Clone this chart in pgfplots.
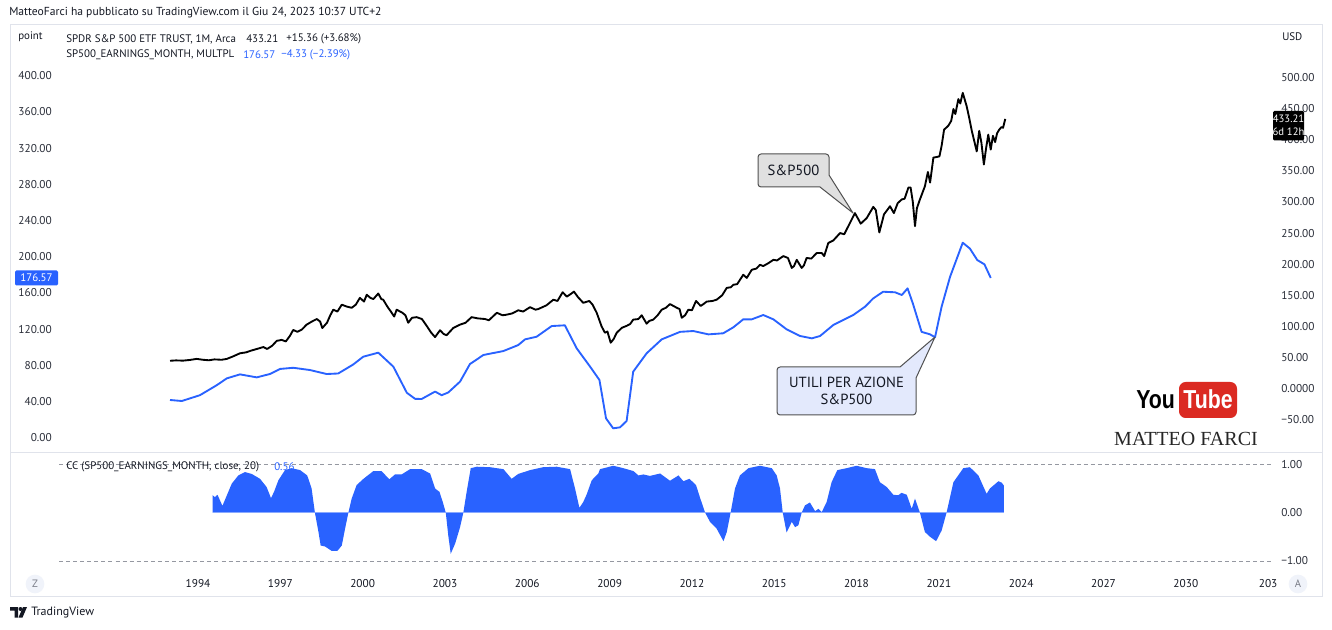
\documentclass[border=0pt]{standalone}
\usepackage{fontspec}
\setmainfont{PT Sans}
\newfontfamily\logoserif{Liberation Serif}
\newfontfamily\ytfont{Liberation Sans Bold}[FakeStretch=0.82]
\usepackage{pgfplots}
\pgfplotsset{compat=1.18}

\definecolor{tvblue}{HTML}{2962FF}
\definecolor{txt}{HTML}{131722}
\definecolor{tick}{HTML}{2A2E39}
\definecolor{framec}{HTML}{E0E3EB}
\definecolor{dashc}{HTML}{9598A1}
\definecolor{callgray}{HTML}{E0E0E0}
\definecolor{calledge}{HTML}{505050}
\definecolor{callblue}{HTML}{E3E9FC}
\definecolor{ytred}{HTML}{DB2A22}
\definecolor{btnfill}{HTML}{F0F3FA}
\definecolor{btntext}{HTML}{787B86}

\pgfplotsset{
  tvpane/.style={
    scale only axis, width=910.5pt,
    xmin=1988.934, xmax=2033.177,
    axis line style={draw=none},
    major tick length=0pt,
    tick label style={font=\fontsize{8.5}{10}\selectfont, text=tick},
    clip=true,
  },
}

\begin{document}
\begin{tikzpicture}[x=0.75pt, y=0.75pt]
\useasboundingbox (0,0) rectangle (1332,629);
\fill[white] (0,0) rectangle (1332,629);

% S&P 500 earnings, left scale
\begin{axis}[tvpane, at={(44.25pt,453pt)}, anchor=north west, height=320.8pt,
  ymin=-16.57, ymax=456.0, xtick=\empty,
  ytick={0,40,...,400},
  yticklabels={0.00,40.00,80.00,120.00,160.00,200.00,240.00,280.00,320.00,360.00,400.00},
  yticklabel style={anchor=east, inner sep=0pt, xshift=-5.25pt}]
\addplot[tvblue, line width=1.4pt, line join=round] coordinates {
(1992.98,41.7) (1993.41,40.6) (1994.07,47) (1994.68,58) (1995.05,65.6) (1995.53,70)
(1996.14,66.7) (1996.62,70.4) (1996.99,76) (1997.47,77.3) (1998.08,74.8) (1998.69,70.4)
(1999.11,71) (1999.66,81) (2000.02,89.5) (2000.57,94) (2001.12,78.5) (2001.61,49.7)
(2001.91,43) (2002.15,42.8) (2002.64,51) (2002.88,47) (2003.12,50) (2003.55,62)
(2003.91,81.4) (2004.40,91.4) (2005.13,95.8) (2005.67,102.4) (2005.92,108.7) (2006.34,111.6)
(2006.89,123.4) (2007.37,124.2) (2007.80,98.8) (2008.29,78.5) (2008.63,63.8) (2008.87,21.4)
(2009.13,10.4) (2009.38,11.5) (2009.62,18.5) (2009.86,73) (2010.35,93.3) (2010.90,108.7)
(2011.57,117) (2012.05,117.9) (2012.60,114.2) (2013.14,115.4) (2013.51,122) (2013.87,130.8)
(2014.18,130.8) (2014.60,135.6) (2014.97,130.8) (2015.45,119.8) (2015.94,112.4) (2016.37,109.8)
(2016.67,112.4) (2017.15,124.5) (2017.88,135.6) (2018.31,144.8) (2018.61,154) (2018.97,161.3)
(2019.40,160.7) (2019.65,157.7) (2019.86,165) (2020.05,148.5) (2020.37,117) (2020.68,114.2)
(2020.86,111) (2021.10,144.8) (2021.41,178) (2021.87,215.5) (2022.13,209) (2022.40,196.3)
(2022.66,191.6) (2022.89,176.57)
};
\end{axis}

% SPDR S&P 500 ETF, right scale
\begin{axis}[tvpane, at={(44.25pt,453pt)}, anchor=north west, height=320.8pt,
  ymin=-102.6, ymax=583.9, xtick=\empty,
  ytick={-50,0,...,500},
  yticklabels={−50.00,0.0000,50.00,100.00,150.00,200.00,250.00,300.00,350.00,400.00,450.00,500.00},
  yticklabel pos=right,
  yticklabel style={anchor=west, inner sep=0pt, xshift=6pt}]
\addplot[black, line width=1.4pt, line join=round] coordinates {
(1992.98,45.0) (1993.20,45.6) (1993.45,45.2) (1993.70,46.3) (1993.95,48.0) (1994.20,46.5)
(1994.40,45.8) (1994.60,47.2) (1994.86,46.6) (1995.05,48.0) (1995.25,51.5) (1995.53,57.0)
(1995.75,58.5) (1995.95,61.5) (1996.15,64.0) (1996.38,67.0) (1996.52,64.0) (1996.70,69.0)
(1996.87,77.0) (1997.05,78.5) (1997.20,76.0) (1997.35,85.0) (1997.47,94.5) (1997.62,91.5)
(1997.78,95.0) (1997.96,103.0) (1998.15,108.0) (1998.33,112.0) (1998.45,108.0) (1998.53,97.5)
(1998.70,106.0) (1998.82,118.0) (1998.93,127.0) (1999.08,124.0) (1999.24,135.0) (1999.42,132.0)
(1999.60,130.0) (1999.75,135.0) (1999.90,146.0) (2000.05,140.0) (2000.15,151.0) (2000.28,146.0)
(2000.39,144.0) (2000.57,153.0) (2000.68,144.0) (2000.75,143.0) (2000.90,132.0) (2001.06,122.0)
(2001.15,116.0) (2001.24,127.0) (2001.45,122.0) (2001.56,118.0) (2001.66,106.0) (2001.80,114.0)
(2001.97,115.0) (2002.16,112.0) (2002.35,100.0) (2002.50,90.0) (2002.64,83.0) (2002.82,94.0)
(2002.95,88.0) (2003.06,86.0) (2003.30,97.5) (2003.55,103.0) (2003.75,106.0) (2003.97,115.0)
(2004.20,113.0) (2004.46,112.0) (2004.60,110.0) (2004.89,122.0) (2005.10,118.0) (2005.25,119.0)
(2005.45,121.0) (2005.67,126.0) (2005.85,124.0) (2006.10,131.0) (2006.30,127.0) (2006.40,128.0)
(2006.70,134.0) (2006.95,143.0) (2007.10,141.0) (2007.29,155.0) (2007.44,148.0) (2007.58,152.0)
(2007.70,156.0) (2007.85,147.0) (2008.04,138.0) (2008.26,141.0) (2008.38,135.0) (2008.53,122.0)
(2008.71,100.0) (2008.83,90.0) (2008.92,92.0) (2009.04,74.0) (2009.15,80.0) (2009.26,90.0)
(2009.45,98.0) (2009.62,101.0) (2009.75,104.0) (2009.86,111.0) (2010.05,112.0) (2010.17,118.0)
(2010.35,104.5) (2010.45,109.0) (2010.59,111.0) (2010.75,118.0) (2010.90,127.0) (2011.05,130.0)
(2011.20,136.0) (2011.45,130.0) (2011.55,128.0) (2011.63,114.0) (2011.75,118.0) (2011.87,127.0)
(2012.00,126.0) (2012.15,141.0) (2012.32,133.0) (2012.42,136.0) (2012.54,140.0) (2012.75,141.0)
(2012.90,143.0) (2013.10,150.0) (2013.27,162.0) (2013.42,163.0) (2013.51,167.0) (2013.65,168.0)
(2013.87,183.0) (2014.00,178.0) (2014.18,191.0) (2014.35,193.0) (2014.48,199.0) (2014.60,197.0)
(2014.80,202.0) (2014.97,207.0) (2015.10,206.0) (2015.33,213.0) (2015.50,210.0) (2015.64,194.0)
(2015.72,197.0) (2015.82,207.0) (2016.00,194.0) (2016.08,198.0) (2016.18,210.0) (2016.35,209.0)
(2016.55,218.0) (2016.73,218.0) (2016.82,213.0) (2016.97,234.0) (2017.15,238.0) (2017.40,250.0)
(2017.55,248.0) (2017.70,261.0) (2017.94,282.0) (2018.08,271.0) (2018.15,265.0) (2018.37,274.0)
(2018.61,292.0) (2018.70,287.0) (2018.83,251.0) (2019.00,280.0) (2019.22,293.0) (2019.36,282.0)
(2019.50,298.0) (2019.65,304.0) (2019.75,305.0) (2019.89,323.0) (2019.97,323.0) (2020.05,300.0)
(2020.13,261.0) (2020.20,290.0) (2020.31,304.0) (2020.49,325.0) (2020.60,348.0) (2020.68,331.0)
(2020.80,371.0) (2021.02,373.0) (2021.10,390.0) (2021.19,416.0) (2021.34,422.0) (2021.45,430.0)
(2021.53,449.0) (2021.60,441.0) (2021.71,465.0) (2021.78,458.0) (2021.87,475.0) (2022.01,454.0)
(2022.10,436.0) (2022.20,414.0) (2022.38,381.0) (2022.47,414.0) (2022.55,395.0) (2022.64,360.0)
(2022.72,386.0) (2022.80,408.0) (2022.89,384.0) (2022.97,406.0) (2023.05,396.0) (2023.12,410.0)
(2023.20,416.0) (2023.28,420.0) (2023.34,419.0) (2023.42,433.21)
};
\end{axis}

% correlation pane
\begin{axis}[tvpane, at={(44.25pt,132.225pt)}, anchor=north west, height=87.975pt,
  ymin=-1.186, ymax=1.240,
  ytick={-1,0,1}, yticklabels={−1.00,0.00,1.00},
  yticklabel pos=right,
  yticklabel style={anchor=west, inner sep=0pt, xshift=6pt},
  xtick={1994,1997,2000,2003,2006,2009,2012,2015,2018,2021,2024,2027,2030,2033},
  xticklabels={1994,1997,2000,2003,2006,2009,2012,2015,2018,2021,2024,2027,2030,203},
  xticklabel style={anchor=center, inner sep=0pt, yshift=-10.5pt, text=txt}]
\addplot[dashc, line width=0.6pt, dash pattern=on 3pt off 2.3pt] coordinates {(1988.934,1) (2033.177,1)};
\addplot[dashc, line width=0.6pt, dash pattern=on 3pt off 2.3pt] coordinates {(1988.934,-1) (2033.177,-1)};
\addplot[fill=tvblue, draw=none] coordinates {
(1994.53,0) (1994.53,0.36) (1994.62,0.32) (1994.71,0.37) (1994.89,0.14) (1995.23,0.60)
(1995.47,0.77) (1995.71,0.84) (1995.96,0.80) (1996.26,0.70) (1996.50,0.53) (1996.66,0.30)
(1996.77,0.43) (1996.93,0.67) (1997.17,0.88) (1997.41,0.92) (1997.72,0.88) (1997.98,0.77)
(1998.14,0.50) (1998.26,0) (1998.39,-0.40) (1998.47,-0.68) (1998.63,-0.70) (1998.87,-0.79)
(1999.08,-0.79) (1999.24,-0.68) (1999.36,-0.33) (1999.48,0) (1999.60,0.29) (1999.78,0.57)
(2000.03,0.70) (2000.39,0.86) (2000.69,0.86) (2000.97,0.69) (2001.18,0.79) (2001.42,0.79)
(2001.73,0.90) (2002.15,0.90) (2002.46,0.81) (2002.64,0.50) (2002.80,0.43) (2002.92,0.22)
(2003.03,0) (2003.12,-0.47) (2003.21,-0.85) (2003.37,-0.64) (2003.55,-0.30) (2003.67,0)
(2003.79,0.43) (2003.94,0.92) (2004.16,0.95) (2004.64,0.94) (2005.13,0.90) (2005.43,0.70)
(2005.67,0.80) (2006.10,0.88) (2006.58,0.94) (2007.07,0.95) (2007.56,0.90) (2007.74,0.50)
(2007.90,0.10) (2008.04,0.22) (2008.16,0.37) (2008.35,0.67) (2008.59,0.81) (2008.65,0.90)
(2009.14,0.97) (2009.50,0.92) (2009.87,0.86) (2010.05,0.77) (2010.23,0.79) (2010.47,0.76)
(2010.84,0.81) (2011.20,0.66) (2011.51,0.77) (2011.69,0.65) (2011.91,0.70) (2012.15,0.57)
(2012.29,0.32) (2012.48,0) (2012.66,-0.19) (2012.90,-0.33) (2013.15,-0.59) (2013.27,-0.40)
(2013.41,0) (2013.57,0.50) (2013.75,0.77) (2014.06,0.92) (2014.48,0.97) (2014.91,0.92)
(2015.09,0.77) (2015.21,0.50) (2015.31,0) (2015.45,-0.41) (2015.64,-0.19) (2015.76,-0.30)
(2015.88,-0.26) (2016.00,0) (2016.12,0.15) (2016.30,0.21) (2016.49,0.03) (2016.61,0.08)
(2016.73,0.01) (2016.91,0.22) (2017.09,0.63) (2017.30,0.88) (2017.64,0.92) (2018.00,0.97)
(2018.37,0.92) (2018.67,0.90) (2018.85,0.63) (2019.10,0.53) (2019.34,0.37) (2019.52,0.36)
(2019.64,0.41) (2019.83,0.37) (2020.01,0.08) (2020.13,0.29) (2020.31,0) (2020.49,-0.40)
(2020.68,-0.50) (2020.90,-0.59) (2021.10,-0.37) (2021.28,0) (2021.53,0.63) (2021.89,0.92)
(2022.13,0.94) (2022.44,0.77) (2022.74,0.39) (2022.86,0.50) (2023.17,0.65) (2023.29,0.62)
(2023.37,0.56) (2023.37,0)
} \closedcycle;
\addplot[color=tvblue!55, line width=0.6pt] coordinates {(1994.53,0) (2023.37,0)};
\end{axis}

% page furniture in screen pixel coordinates
\begin{scope}[shift={(0pt,471.75pt)}, x=0.75pt, y=-0.75pt]
\draw[framec, line width=0.75pt] (10,25) rectangle (1322,596);
\draw[framec, line width=0.75pt] (10,452.7) -- (1322,452.7);

\tikzset{lbl/.style={inner sep=0pt, anchor=west, text=txt, font=\fontsize{8.2}{10}\selectfont}}
\node[lbl, font=\fontsize{8.7}{10}\selectfont] at (9,13) {MatteoFarci ha pubblicato su TradingView.com il Giu 24, 2023 10:37 UTC+2};
\node[lbl] at (18,37) {point};
\node[lbl] at (1282,37) {USD};
\node[lbl] at (66,39) {SPDR S\&P 500 ETF TRUST, 1M, Arca};
\node[lbl] at (246,39) {433.21};
\node[lbl] at (286,39) {+15.36 (+3.68\%)};
\node[lbl] at (66,55) {SP500\_EARNINGS\_MONTH, MULTPL};
\node[lbl, text=tvblue] at (243,55) {176.57};
\node[lbl, text=tvblue] at (281,55) {−4.33 (−2.39\%)};
\node[lbl] at (66,467) {CC (SP500\_EARNINGS\_MONTH, close, 20)};
\node[lbl, text=tvblue] at (274,467) {0.56};

% last value tags
\fill[tvblue, rounded corners=1pt] (15,270.5) rectangle (58,285.5);
\node[inner sep=0pt, text=white, font=\fontsize{8.2}{10}\selectfont] at (36.5,278) {176.57};
\fill[black, rounded corners=1pt] (1273,111) rectangle (1304,140.5);
\node[inner sep=0pt, text=white, font=\fontsize{8}{10}\selectfont] at (1288.5,119) {433.21};
\node[inner sep=0pt, text=white, font=\fontsize{8}{10}\selectfont] at (1288.5,131.5) {6d 12h};

% callouts
\draw[fill=callgray, draw=calledge, line width=0.75pt, line join=round]
  (761,154) -- (826,154) arc[start angle=90, end angle=0, radius=2.25pt] -- (829,175)
  -- (853,213) -- (820,187) -- (761,187) arc[start angle=270, end angle=180, radius=2.25pt]
  -- (758,157) arc[start angle=180, end angle=90, radius=2.25pt] -- cycle;
\node[inner sep=0pt, text=txt, font=\fontsize{11}{13}\selectfont] at (793.5,170.5) {S\&P500};

\draw[fill=callblue, draw=calledge, line width=0.75pt, line join=round]
  (780,367) -- (900,367) -- (935,337) -- (916,378) -- (916,412)
  arc[start angle=0, end angle=-90, radius=2.25pt] -- (780,415)
  arc[start angle=270, end angle=180, radius=2.25pt] -- (777,370)
  arc[start angle=180, end angle=90, radius=2.25pt] -- cycle;
\node[inner sep=0pt, text=txt, font=\fontsize{11}{13}\selectfont, align=center] at (846.5,391)
  {UTILI PER AZIONE\\S\&P500};

% channel logo
\node[inner sep=0pt, anchor=base west, font=\ytfont\fontsize{19.5}{20}\selectfont] at (1136,409) {You};
\fill[ytred, rounded corners=5pt] (1179,382) rectangle (1237,418);
\node[inner sep=0pt, anchor=base, text=white, font=\ytfont\fontsize{19.5}{20}\selectfont] at (1208,409) {Tube};
\node[inner sep=0pt, anchor=base, text=black!85, font=\logoserif\fontsize{15}{16}\selectfont] at (1186,445) {MATTEO FARCI};

% scale buttons
\fill[btnfill] (35,584) circle[radius=7pt];
\node[inner sep=0pt, text=btntext, font=\fontsize{8}{10}\selectfont] at (35,584) {Z};
\fill[btnfill] (1298,584) circle[radius=7pt];
\node[inner sep=0pt, text=btntext, font=\fontsize{8}{10}\selectfont] at (1298,584) {A};

% footer logo
\fill[txt] (10,607) -- (18,607) -- (18,617.5) -- (14.5,617.5) -- (14.5,610.5) -- (10,610.5) -- cycle;
\fill[txt] (20.5,609) circle[radius=1.5pt];
\fill[txt] (23,607) -- (27,607) -- (22.5,617.5) -- (18.5,617.5) -- cycle;
\node[lbl, font=\fontsize{9}{11}\selectfont] at (31,612.5) {TradingView};
\end{scope}
\end{tikzpicture}
\end{document}
